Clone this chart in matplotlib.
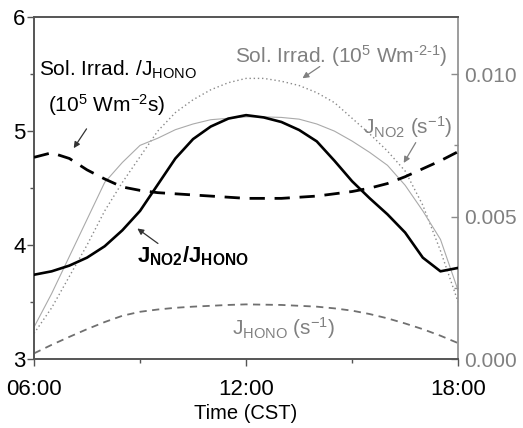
import matplotlib
matplotlib.use("Agg")
import matplotlib.pyplot as plt
from matplotlib.ticker import MultipleLocator, FixedLocator, FuncFormatter

plt.rcParams['font.family'] = ['Liberation Sans', 'DejaVu Sans']
plt.rcParams['mathtext.fontset'] = 'custom'
plt.rcParams['mathtext.rm'] = 'Liberation Sans'
plt.rcParams['mathtext.it'] = 'Liberation Sans'
plt.rcParams['mathtext.bf'] = 'Liberation Sans:bold'

# ---- data ----
hours = [6.0, 6.5, 7.0, 7.5, 8.0, 8.5, 9.0, 9.5, 10.0, 10.5, 11.0, 11.5, 12.0,
         12.5, 13.0, 13.5, 14.0, 14.5, 15.0, 15.5, 16.0, 16.5, 17.0, 17.5, 18.0]

ratio_no2_hono = [3.74, 3.77, 3.82, 3.89, 3.99, 4.13, 4.30, 4.53, 4.76, 4.93, 5.04, 5.11, 5.14,
                  5.12, 5.08, 5.01, 4.91, 4.74, 4.56, 4.41, 4.27, 4.11, 3.89, 3.77, 3.80]

solirr_over_jhono = [4.77, 4.81, 4.76, 4.66, 4.58, 4.51, 4.48, 4.46, 4.45, 4.44, 4.43, 4.42, 4.41,
                     4.41, 4.41, 4.42, 4.43, 4.45, 4.47, 4.50, 4.54, 4.60, 4.67, 4.74, 4.82]

sol_irrad = [0.00090, 0.00180, 0.00290, 0.00400, 0.00520, 0.00620, 0.00710, 0.00800, 0.00865,
             0.00910, 0.00945, 0.00970, 0.00985, 0.00985, 0.00975, 0.00960, 0.00935, 0.00900,
             0.00845, 0.00790, 0.00730, 0.00660, 0.00540, 0.00380, 0.00200]

j_no2 = [0.00112, 0.00230, 0.00360, 0.00490, 0.00620, 0.00690, 0.00750, 0.00775, 0.00805,
         0.00825, 0.00840, 0.00845, 0.00850, 0.00850, 0.00848, 0.00842, 0.00825, 0.00800,
         0.00765, 0.00725, 0.00680, 0.00610, 0.00520, 0.00420, 0.00240]

j_hono = [0.00020, 0.00050, 0.00078, 0.00105, 0.00130, 0.00152, 0.00166, 0.00174, 0.00180,
          0.00184, 0.00187, 0.00190, 0.00192, 0.00191, 0.00190, 0.00187, 0.00184, 0.00178,
          0.00170, 0.00158, 0.00143, 0.00125, 0.00105, 0.00082, 0.00056]

xticks = [6, 12, 18]
xticklabels = ['06:00', '12:00', '18:00']

# ---- figure ----
fig = plt.figure(figsize=(5.23, 4.28), dpi=100)
ax = fig.add_axes([0.065, 0.161, 0.811, 0.799])
ax2 = ax.twinx()

gray_txt = '#808080'
spine_dark = '#555555'
spine_gray = '#8c8c8c'

# right-axis series
ax2.plot(hours, sol_irrad, color='#8a8a8a', lw=1.0, ls=(0, (1, 2)))
ax2.plot(hours, j_no2, color='#aaaaaa', lw=0.8, ls='-')
ax2.plot(hours, j_hono, color='#707070', lw=1.3, ls=(0, (4, 3)))

# left-axis series
ax.plot(hours, ratio_no2_hono, color='black', lw=1.9, zorder=5)
l, = ax.plot(hours, solirr_over_jhono, color='black', lw=2.0, zorder=5)
l.set_dashes([5.5, 3.5])

ax.set_zorder(ax2.get_zorder() + 1)
ax.patch.set_visible(False)

ax.set_xlim(6, 18)
ax.set_ylim(3, 6)
ax2.set_ylim(0, 0.012)

ax.xaxis.set_major_locator(FixedLocator(xticks))
ax.set_xticklabels(xticklabels)
ax.xaxis.set_minor_locator(FixedLocator([9, 15]))
ax.yaxis.set_major_locator(MultipleLocator(1))
ax.yaxis.set_minor_locator(MultipleLocator(0.5))
ax2.yaxis.set_major_locator(FixedLocator([0.0, 0.005, 0.010]))
ax2.yaxis.set_minor_locator(MultipleLocator(0.0025))
ax2.yaxis.set_major_formatter(FuncFormatter(lambda v, p: f'{v:.3f}'))

ax.tick_params(axis='both', which='major', labelsize=16, direction='out', length=5,
               width=1.0, color=spine_dark)
ax.tick_params(axis='y', which='major', pad=1)
ax.tick_params(axis='x', which='major', pad=9)
ax.tick_params(axis='both', which='minor', direction='out', length=3, width=1.0, color=spine_dark)
ax.tick_params(axis='y', which='both', right=False)
ax.tick_params(axis='x', which='both', top=False)
ax2.tick_params(axis='y', which='major', labelsize=15, direction='in', length=5, width=1.0,
                color=spine_gray, labelcolor=gray_txt, pad=4)
ax2.tick_params(axis='y', which='minor', direction='in', length=3, width=1.0, color=spine_gray)

for s in ['left', 'bottom', 'top']:
    ax.spines[s].set_color(spine_dark)
    ax2.spines[s].set_color(spine_dark)
ax.spines['right'].set_visible(False)
ax2.spines['right'].set_color(spine_gray)
for s in ax.spines.values():
    s.set_linewidth(1.2)
for s in ax2.spines.values():
    s.set_linewidth(1.2)

ax.set_xlabel('Time (CST)', fontsize=14.5, labelpad=3)

fs = 15
# annotations (left-axis data coordinates)
ax.text(6.14, 5.49, r'Sol. Irrad. /J$_{\mathrm{HONO}}$', fontsize=fs, color='black', ha='left', va='baseline')
ax.text(6.40, 5.17, r'(10$^{5}$ Wm$^{-2}$s)', fontsize=fs, color='black', ha='left', va='baseline')
ax.annotate('', xy=(7.08, 4.83), xytext=(7.53, 5.04),
            arrowprops=dict(arrowstyle='-|>', color='#333333', lw=0.9, mutation_scale=9))

ax.text(11.70, 5.60, 'Sol. Irrad. (10$^{5}$ Wm$^{\u2010 2\u2010 1}$)',
        fontsize=fs, color=gray_txt, ha='left', va='baseline')
ax.annotate('', xy=(13.53, 5.45), xytext=(14.15, 5.58),
            arrowprops=dict(arrowstyle='-|>', color='#808080', lw=0.9, mutation_scale=9))

ax.text(15.30, 4.98, r'J$_{\mathrm{NO2}}$ (s$^{-1}$)', fontsize=fs, color=gray_txt, ha='left', va='baseline')
ax.annotate('', xy=(16.42, 4.70), xytext=(16.84, 4.92),
            arrowprops=dict(arrowstyle='-|>', color='#808080', lw=0.9, mutation_scale=9))

ax.text(8.92, 3.85, r'J$_{\mathbf{NO2}}$/J$_{\mathbf{HONO}}$', fontsize=16, color='black',
        fontweight='bold', ha='left', va='baseline')
ax.annotate('', xy=(8.86, 4.16), xytext=(9.57, 4.00),
            arrowprops=dict(arrowstyle='-|>', color='#333333', lw=0.9, mutation_scale=9))

ax.text(11.60, 3.21, r'J$_{\mathrm{HONO}}$ (s$^{-1}$)', fontsize=fs, color=gray_txt, ha='left', va='baseline')

fig.savefig('out.png', dpi=100)
